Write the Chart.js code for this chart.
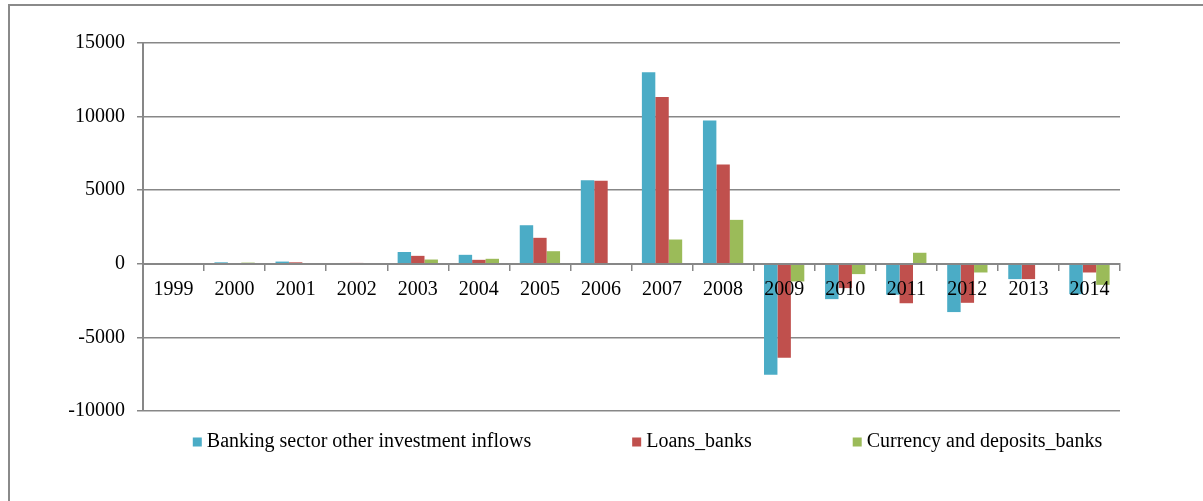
<!DOCTYPE html>
<html>
<head>
<meta charset="utf-8">
<script src="https://cdn.jsdelivr.net/npm/chart.js@4.4.1/dist/chart.umd.min.js"></script>
<style>
  html, body { margin: 0; padding: 0; background: #fff; }
  #wrap { position: relative; width: 1203px; height: 501px; overflow: hidden; }
  #frame { position: absolute; left: 8px; top: 4px; right: -10px; bottom: -10px;
           border-top: 2px solid #8a8a8a; border-left: 2px solid #8a8a8a; }
  canvas { position: absolute; left: 0; top: 0; }
</style>
</head>
<body>
<div id="wrap">
  <div id="frame"></div>
  <canvas id="c" width="1203" height="501"></canvas>
</div>
<script>
// Years on the category axis
const years = ['1999', '2000', '2001', '2002', '2003', '2004', '2005', '2006',
               '2007', '2008', '2009', '2010', '2011', '2012', '2013', '2014'];

// Banking sector other investment inflows
const otherInvestmentInflows = [0, 100, 150, 30, 800, 610, 2620, 5670,
                                13020, 9740, -7530, -2400, -2100, -3280, -1040, -2060];
// Loans_banks
const loansBanks = [0, 0, 100, 60, 540, 270, 1765, 5650,
                    11330, 6740, -6380, -1650, -2680, -2650, -1040, -590];
// Currency and deposits_banks
const currencyDepositsBanks = [0, 80, 0, 0, 290, 340, 855, 0,
                               1650, 2985, -1200, -700, 750, -590, 0, -1430];

// Value-axis ticks
const yTicks = [-10000, -5000, 0, 5000, 10000, 15000];

const FONT = { family: "'Liberation Serif', 'DejaVu Serif', serif", size: 20 };
const AXIS_GREY = '#878787';

// Legend row under the plot: square marker + label, evenly gapped
const bottomLegend = {
  id: 'bottomLegend',
  afterDraw(chart) {
    const ctx = chart.ctx;
    const box = 9, gapText = 5, gapItem = 101;
    ctx.save();
    ctx.font = FONT.size + 'px ' + FONT.family;
    ctx.textBaseline = 'middle';
    const items = chart.data.datasets.map(ds => ({
      label: ds.label, color: ds.backgroundColor,
      w: box + gapText + ctx.measureText(ds.label).width
    }));
    const total = items.reduce((s, it) => s + it.w, 0) + gapItem * (items.length - 1);
    const ca = chart.chartArea;
    let x = (ca.left + ca.right) / 2 + 16 - total / 2;
    const yMid = ca.bottom + 31;
    items.forEach(it => {
      ctx.fillStyle = it.color;
      ctx.fillRect(x, yMid - box / 2, box, box);
      ctx.fillStyle = '#000';
      ctx.fillText(it.label, x + box + gapText, yMid);
      x += it.w + gapItem;
    });
    ctx.restore();
  }
};

new Chart(document.getElementById('c'), {
  type: 'bar',
  data: {
    labels: years,
    datasets: [
      { label: 'Banking sector other investment inflows', data: otherInvestmentInflows, backgroundColor: '#4BACC6' },
      { label: 'Loans_banks', data: loansBanks, backgroundColor: '#C0504D' },
      { label: 'Currency and deposits_banks', data: currencyDepositsBanks, backgroundColor: '#9BBB59' }
    ]
  },
  plugins: [bottomLegend],
  options: {
    responsive: false,
    animation: false,
    devicePixelRatio: 1,
    layout: { padding: { top: 43, left: 0, right: 83, bottom: 90 } },
    datasets: { bar: { categoryPercentage: 0.66, barPercentage: 1.0, borderWidth: 0 } },
    plugins: { legend: { display: false }, tooltip: { enabled: false } },
    scales: {
      x: {
        type: 'category',
        position: { y: 0 },
        offset: true,
        afterFit(scale) { scale.height = 0; },
        grid: { offset: true, drawOnChartArea: false, drawTicks: true, tickLength: 6,
                color: AXIS_GREY, lineWidth: 1.5, z: 1 },
        border: { display: true, color: AXIS_GREY, width: 2, z: 1 },
        // year labels sit on top of the bars
        ticks: { font: FONT, color: '#000', padding: 8, maxRotation: 0, autoSkip: false, z: 2 }
      },
      y: {
        min: yTicks[0],
        max: yTicks[yTicks.length - 1],
        afterFit(scale) { scale.width = 143; },
        afterBuildTicks(scale) { scale.ticks = yTicks.map(v => ({ value: v })); },
        grid: { color: AXIS_GREY, lineWidth: 1.5, tickLength: 6, drawTicks: true },
        border: { display: true, color: AXIS_GREY, width: 2 },
        ticks: { font: FONT, color: '#000', padding: 12, callback: v => String(v) }
      }
    }
  }
});
</script>
</body>
</html>
